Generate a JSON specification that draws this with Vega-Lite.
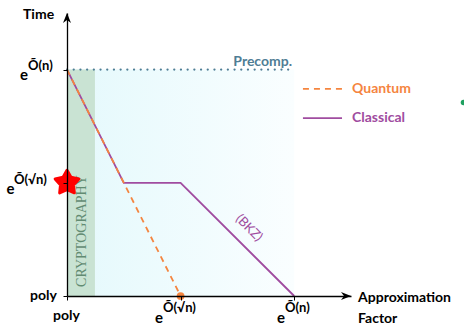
{
  "$schema": "https://vega.github.io/schema/vega-lite/v6.json",
  "width": 284,
  "height": 283,
  "autosize": {"type": "none"},
  "padding": {"left": 67, "top": 13, "right": 113, "bottom": 30},
  "background": "white",
  "config": {"view": {"stroke": null}, "text": {"font": "Lato"}},
  "encoding": {
    "x": {"field": "x", "type": "quantitative", "scale": {"domain": [0, 2.5], "nice": false, "zero": false},
      "axis": {"values": [0, 1, 2], "labels": false, "grid": false, "title": null, "domainColor": "#000", "domainWidth": 1.3, "tickColor": "#000", "tickSize": 4, "tickWidth": 1, "zindex": 1}},
    "y": {"field": "y", "type": "quantitative", "scale": {"domain": [0, 2.5], "nice": false, "zero": false},
      "axis": {"values": [0, 1, 2], "labels": false, "grid": false, "title": null, "domainColor": "#000", "domainWidth": 1.3, "tickColor": "#000", "tickSize": 4, "tickWidth": 1, "zindex": 1}}
  },
  "layer": [
    {
      "data": {"values": [{"x": 0, "x2": 2, "y": 0, "y2": 2}]},
      "mark": {"type": "rect", "fill": {"gradient": "linear", "x1": 0, "x2": 1, "y1": 0, "y2": 0, "stops": [{"offset": 0, "color": "#e4f9fc"}, {"offset": 1, "color": "#fafeff"}]}},
      "encoding": {"x2": {"field": "x2"}, "y2": {"field": "y2"}}
    },
    {
      "data": {"values": [{"x": 0, "x2": 0.246, "y": 0, "y2": 2}]},
      "mark": {"type": "rect", "color": "#c9e3d3"},
      "encoding": {"x2": {"field": "x2"}, "y2": {"field": "y2"}}
    },
    {
      "data": {"values": [{"x": 0.128, "y": 0.08, "t": "CRYPTOGRAPHY"}]},
      "mark": {"type": "text", "font": "Liberation Serif", "fontSize": 14, "angle": 270, "align": "left", "baseline": "middle", "color": "#628b72"},
      "encoding": {"text": {"field": "t"}}
    },
    {
      "data": {"values": [{"x": 0, "x2": 2, "y": 2}]},
      "mark": {"type": "rule", "color": "#4f7d95", "strokeWidth": 2.2, "strokeDash": [0.1, 6.6], "strokeCap": "round"},
      "encoding": {"x2": {"field": "x2"}}
    },
    {
      "data": {"values": [{"x": 0, "y": 2}, {"x": 0.5, "y": 1}, {"x": 1, "y": 1}, {"x": 2, "y": 0}]},
      "mark": {"type": "line", "color": "#a04ca0", "strokeWidth": 1.8},
      "encoding": {}
    },
    {
      "data": {"values": [{"x": 0, "y": 2}, {"x": 1, "y": 0}]},
      "mark": {"type": "line", "color": "#f5853f", "strokeWidth": 1.8, "strokeDash": [6, 5]},
      "encoding": {}
    },
    {
      "data": {"values": [{"x": 2.077, "x2": 2.421, "y": 1.829}]},
      "mark": {"type": "rule", "color": "#f5853f", "strokeWidth": 1.8, "strokeDash": [6, 5]},
      "encoding": {"x2": {"field": "x2"}}
    },
    {
      "data": {"values": [{"x": 2.077, "x2": 2.421, "y": 1.572}]},
      "mark": {"type": "rule", "color": "#a04ca0", "strokeWidth": 1.8},
      "encoding": {"x2": {"field": "x2"}}
    },
    {
      "data": {"values": [{"x": 2.509, "y": 1.829, "t": "Quantum"}]},
      "mark": {"type": "text", "fontSize": 14, "fontWeight": "bold", "align": "left", "baseline": "middle", "color": "#f5853f"},
      "encoding": {"text": {"field": "t"}}
    },
    {
      "data": {"values": [{"x": 2.509, "y": 1.572, "t": "Classical"}]},
      "mark": {"type": "text", "fontSize": 14, "fontWeight": "bold", "align": "left", "baseline": "middle", "color": "#a04ca0"},
      "encoding": {"text": {"field": "t"}}
    },
    {
      "data": {"values": [{"x": 1.981, "y": 2.032, "t": "Precomp."}]},
      "mark": {"type": "text", "fontSize": 14, "fontWeight": "bold", "align": "right", "baseline": "alphabetic", "color": "#4f7d95"},
      "encoding": {"text": {"field": "t"}}
    },
    {
      "data": {"values": [{"x": 1.602, "y": 0.601, "t": "(BKZ)"}]},
      "mark": {"type": "text", "fontSize": 13, "angle": 45, "align": "center", "baseline": "middle", "color": "#a04ca0"},
      "encoding": {"text": {"field": "t"}}
    },
    {
      "data": {"values": [{"x": 1, "y": 0}]},
      "mark": {"type": "point", "filled": true, "opacity": 1, "color": "#f5853f", "size": 60},
      "encoding": {}
    },
    {
      "data": {"values": [{"x": 0, "y": 1}]},
      "mark": {"type": "point", "shape": "M0,-1 L0.32,-0.44 L0.951,-0.309 L0.52,0.17 L0.588,0.809 L0,0.55 L-0.588,0.809 L-0.52,0.17 L-0.951,-0.309 L-0.32,-0.44 Z", "filled": true, "opacity": 1, "color": "#ff0000", "stroke": "#ff0000", "strokeWidth": 3, "strokeJoin": "round", "size": 620},
      "encoding": {}
    },
    {
      "data": {"values": [{"x": 3.49, "y": 1.71}]},
      "mark": {"type": "point", "filled": true, "opacity": 1, "color": "#1fa060", "size": 30},
      "encoding": {}
    },
    {
      "data": {"values": [{"x": 2.5, "y": 0}]},
      "mark": {"type": "point", "shape": "M0,0 L-2,-0.8 L-1.4,0 L-2,0.8 Z", "filled": true, "opacity": 1, "color": "#000", "size": 100},
      "encoding": {}
    },
    {
      "data": {"values": [{"x": 0, "y": 2.5}]},
      "mark": {"type": "point", "shape": "M0,0 L-0.8,2 L0,1.4 L0.8,2 Z", "filled": true, "opacity": 1, "color": "#000", "size": 100},
      "encoding": {}
    },
    {
      "data": {"values": [
        {"x": -0.387, "y": 2.447, "t": "Time"},
        {"x": 2.562, "y": -0.053, "t": "Approximation"},
        {"x": 2.562, "y": -0.239, "t": "Factor"},
        {"x": -0.326, "y": -0.035, "t": "poly"},
        {"x": -0.123, "y": -0.212, "t": "poly"}
      ]},
      "mark": {"type": "text", "fontSize": 14, "fontWeight": "bold", "align": "left", "baseline": "alphabetic", "color": "#000"},
      "encoding": {"text": {"field": "t"}}
    },
    {
      "data": {"values": [
        {"x": -0.414, "y": 1.908, "t": "e"},
        {"x": -0.532, "y": 0.901, "t": "e"},
        {"x": 0.775, "y": -0.239, "t": "e"},
        {"x": 1.849, "y": -0.239, "t": "e"}
      ]},
      "mark": {"type": "text", "fontSize": 15, "fontWeight": "bold", "align": "left", "baseline": "alphabetic", "color": "#000"},
      "encoding": {"text": {"field": "t"}}
    },
    {
      "data": {"values": [
        {"x": -0.343, "y": 1.996, "t": "Õ(n)"},
        {"x": -0.467, "y": 0.989, "t": "Õ(√n)"},
        {"x": 0.845, "y": -0.141, "t": "Õ(√n)"},
        {"x": 1.919, "y": -0.141, "t": "Õ(n)"}
      ]},
      "mark": {"type": "text", "fontSize": 13, "fontWeight": "bold", "align": "left", "baseline": "alphabetic", "color": "#000"},
      "encoding": {"text": {"field": "t"}}
    }
  ]
}
